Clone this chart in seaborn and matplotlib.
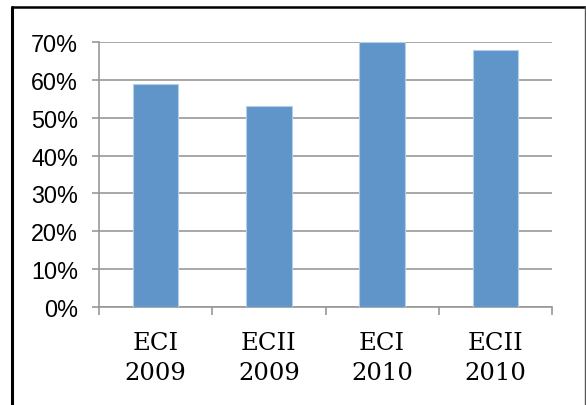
import matplotlib
matplotlib.use("Agg")
import matplotlib.pyplot as plt
from matplotlib.lines import Line2D
from matplotlib.ticker import PercentFormatter
import seaborn as sns
import pandas as pd

categories = ["ECI\n2009", "ECII\n2009", "ECI\n2010", "ECII\n2010"]
values = [0.59, 0.53, 0.70, 0.68]
y_ticks = [0.0, 0.1, 0.2, 0.3, 0.4, 0.5, 0.6, 0.7]

sns.set_theme(style="white")
plt.rcParams["font.family"] = ["Liberation Sans", "DejaVu Sans"]

df = pd.DataFrame({"group": categories, "share": values})

fig = plt.figure(figsize=(5.86, 4.06), dpi=100)
ax = fig.add_axes([99 / 586, 1 - 308 / 406, (552 - 99) / 586, (308 - 43) / 406])

grid_c = "#989898"
sns.barplot(data=df, x="group", y="share", color="#5F95C8", width=0.4,
            edgecolor="#B5CDE8", linewidth=0.8, saturation=1, ax=ax, zorder=3)

ax.set_ylim(0, 0.7)
ax.set_xlim(-0.5, 3.5)
ax.set_yticks(y_ticks)
ax.yaxis.set_major_formatter(PercentFormatter(1.0, decimals=0))
ax.grid(axis="y", color=grid_c, linewidth=1.2, zorder=0)
ax.set_axisbelow(True)
ax.set_xlabel("")
ax.set_ylabel("")

for side in ["top", "right"]:
    ax.spines[side].set_visible(False)
for side in ["left", "bottom"]:
    ax.spines[side].set_color(grid_c)
    ax.spines[side].set_linewidth(1.2)

ax.tick_params(axis="y", which="major", left=True, length=5, width=1.2,
               color=grid_c, labelsize=16.8, pad=10, labelcolor="black")
ax.set_xticks([-0.5, 0.5, 1.5, 2.5, 3.5], minor=True)
ax.tick_params(axis="x", which="minor", bottom=True, length=6, width=1.2, color=grid_c)
ax.tick_params(axis="x", which="major", bottom=False, length=0, pad=17)
for lbl in ax.get_xticklabels():
    lbl.set_fontfamily(["DejaVu Serif"])
    lbl.set_fontsize(17.5)
    lbl.set_linespacing(1.4)
    lbl.set_color("black")

# frame around the chart
fig.add_artist(Line2D([12 / 586, 12 / 586], [0, 1 - 8 / 406], color="black", linewidth=2.2,
                      transform=fig.transFigure))
fig.add_artist(Line2D([12 / 586, 585 / 586], [1 - 8 / 406, 1 - 8 / 406], color="black",
                      linewidth=1.8, transform=fig.transFigure))
fig.add_artist(Line2D([584.5 / 586, 584.5 / 586], [0, 1 - 8 / 406], color="#555555",
                      linewidth=1.0, transform=fig.transFigure))

fig.savefig("out.png", dpi=100)
